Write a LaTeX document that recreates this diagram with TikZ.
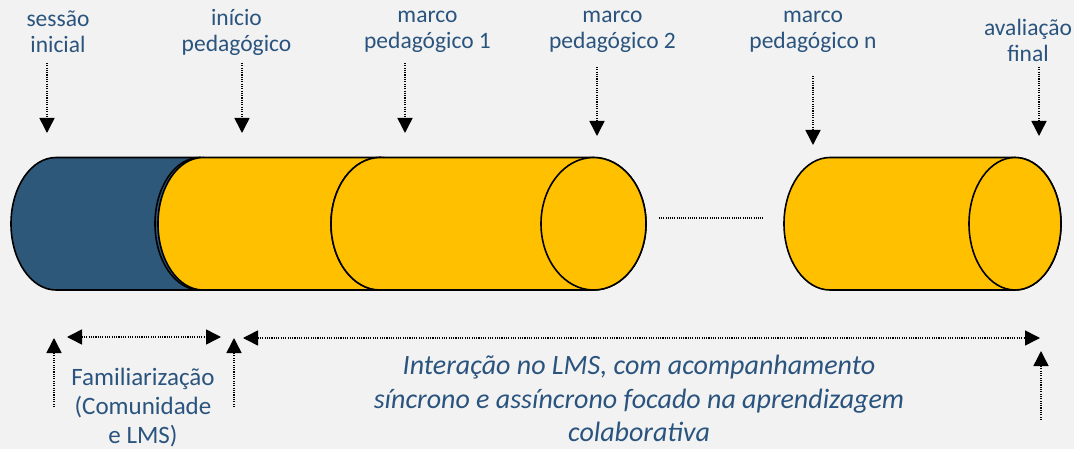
\documentclass[tikz,border=0pt]{standalone}
\usepackage{fontspec}
\setmainfont{Carlito}
\usetikzlibrary{arrows.meta}
\definecolor{bgc}{RGB}{242,242,242}
\definecolor{txtc}{RGB}{42,84,126}
\definecolor{navyc}{RGB}{46,88,122}
\definecolor{goldc}{RGB}{255,192,0}
\newcommand\cylpiece[5]{%
  \filldraw[cylline,fill=#5] (#1,157.5) -- (#3,157.5)
    arc[start angle=-90,end angle=90,x radius=#4,y radius=66.25]
    -- (#1,290) arc[start angle=90,end angle=270,x radius=#2,y radius=66.25] -- cycle;
  \filldraw[cylline,fill=#5] (#3,223.75) ellipse[x radius=#4,y radius=66.25];
}
\begin{document}
\begin{tikzpicture}[x=1pt,y=-1pt,
  lbl/.style={text=txtc, align=center, inner sep=0pt, font=\fontsize{23.5}{26}\selectfont},
  famlbl/.style={text=txtc, align=center, inner sep=0pt, font=\fontsize{25}{29}\selectfont},
  itlbl/.style={text=txtc, align=center, inner sep=0pt, font=\fontsize{28}{33.5}\selectfont\itshape},
  tipshape/.tip={Triangle[length=15pt,width=15pt]},
  dotarrow/.style={line width=1.5pt, dash pattern=on 1.1pt off 1.2pt, -tipshape},
  dotdbl/.style={line width=1.5pt, dash pattern=on 1.1pt off 1.2pt, tipshape-tipshape},
  dotline/.style={line width=1.3pt, dash pattern=on 1pt off 1.2pt},
  cylline/.style={draw=black, line width=1.6pt}]
\useasboundingbox (0,0) rectangle (1074,449);
\fill[bgc] (0,0) rectangle (1074,449);

% cylinders
\cylpiece{56}{45}{200}{45}{navyc}
\cylpiece{203}{45}{380}{49}{goldc}
\cylpiece{380}{49}{593.5}{52.5}{goldc}
\cylpiece{830}{46}{1015}{46}{goldc}

% gap
\coordinate (g1) at (659,218);
\coordinate (g2) at (764,218);
\draw[dotline] (g1) -- (g2);

% top labels
\node[lbl] (tsess) at (58,32) {sessão\\inicial};
\node[lbl] (tinic) at (236.5,32) {início\\pedagógico};
\node[lbl] (tm1) at (427.5,32) {marco\\pedagógico 1};
\node[lbl] (tm2) at (612.5,32) {marco\\pedagógico 2};
\node[lbl] (tmn) at (813,32) {marco\\pedagógico n};
\node[lbl] (tav) at (1028,40.5) {avaliação\\final};

% top arrows
\coordinate (as1) at (47,63);  \coordinate (ae1) at (47,133);
\coordinate (as2) at (242,63); \coordinate (ae2) at (242,133);
\coordinate (as3) at (405,63); \coordinate (ae3) at (405,133);
\coordinate (as4) at (597,67); \coordinate (ae4) at (597,136);
\coordinate (as5) at (813,76); \coordinate (ae5) at (813,145);
\coordinate (as6) at (1039,67); \coordinate (ae6) at (1039,136);
\foreach \i in {1,...,6} {\draw[dotarrow] (as\i) -- (ae\i);}

% bottom arrows
\coordinate (fa) at (67,337);  \coordinate (fb) at (221,337);
\draw[dotdbl] (fa) -- (fb);
\coordinate (ua1) at (54,407); \coordinate (ub1) at (54,338);
\coordinate (ua2) at (234,407); \coordinate (ub2) at (234,338);
\coordinate (ua3) at (1041,420); \coordinate (ub3) at (1041,351);
\foreach \i in {1,2,3} {\draw[dotarrow] (ua\i) -- (ub\i);}
\coordinate (la) at (243,338); \coordinate (lb) at (1040,338);
\draw[dotdbl] (la) -- (lb);

% bottom labels
\node[famlbl] (fam) at (143,407.5) {Familiarização\\(Comunidade\\e LMS)};
\node[itlbl] (inter) at (639,398.5) {Interação no LMS, com acompanhamento\\síncrono e assíncrono focado na aprendizagem\\colaborativa};
\end{tikzpicture}
\end{document}
